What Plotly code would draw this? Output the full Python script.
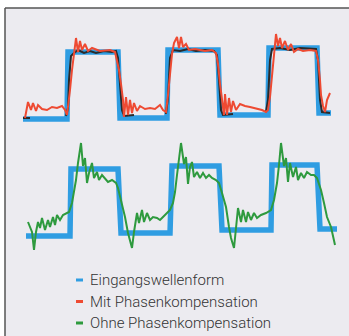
import plotly.graph_objects as go

# ---- data (time in arbitrary units, level in arbitrary units) ----
in_top_t = [23, 67, 68, 118, 120, 167, 168, 218, 220, 268, 269, 317, 319, 331]
in_top_v = [119, 119, 52, 52, 118, 118, 50, 50, 115, 115, 48, 48, 113, 113]

in_bot_t = [26, 70, 71, 118, 121, 170, 172, 219, 222, 271, 272, 317, 320, 337]
in_bot_v = [236, 236, 169, 169, 233, 233, 166, 166, 230, 230, 165, 165, 229, 229]

mit_t = [25, 28, 31, 33, 36, 38, 42, 47, 52, 57, 62, 65, 67, 68, 70, 72, 74, 76, 78, 80, 82, 85, 88, 92,
         100, 110, 115, 117, 119, 121, 123, 124, 126, 128, 130, 132, 134, 137, 140, 145, 150, 155, 160,
         163, 166, 168, 170, 172, 174, 177, 179, 181, 183, 186, 189, 195, 205, 212, 216, 218, 220, 222,
         224, 225, 227, 229, 231, 233, 236, 240, 245, 250, 255, 262, 266, 268, 270, 272, 274, 276, 278,
         280, 282, 285, 288, 291, 294, 298, 303, 310, 316, 318, 320, 321, 323, 325, 327, 330]
mit_v = [118, 102, 110, 103, 111, 105, 109, 110, 107, 108, 106, 110, 115, 108, 90, 70, 52, 38, 52, 41, 50,
         44, 51, 48, 51, 50, 52, 60, 70, 84, 100, 117, 97, 115, 100, 113, 103, 111, 106, 109, 108, 109,
         105, 110, 112, 95, 72, 54, 43, 37, 48, 37, 47, 44, 50, 49, 51, 50, 53, 64, 84, 100, 115, 94, 115,
         98, 112, 101, 110, 104, 106, 107, 108, 110, 112, 110, 97, 78, 56, 34, 46, 38, 48, 41, 50, 44, 52,
         49, 51, 50, 51, 60, 80, 95, 106, 112, 100, 93]

ref_t = [23, 30, None, 66, 68, 69, 71, 74, 78, 84, 90, 96, 104, 112, 116, 118, 120, 122, 124, 134, None,
         166, 168, 170, 173, 180, 188, 196, 205, 214, 217, 219, 221, 223, 233, None,
         266, 268, 270, 272, 280, 290, 300, 310, 316, 318, 320, 322, 330]
ref_v = [118, 118, None, 116, 108, 80, 56, 53, 50, 53, 51, 53, 51, 52, 51, 58, 80, 110, 116, 115, None,
         114, 98, 58, 50, 51, 49, 51, 50, 51, 55, 80, 110, 115, 114, None,
         112, 100, 60, 49, 48, 50, 48, 49, 49, 60, 100, 112, 113]

ohne_t = [28, 32, 34, 36, 38, 40, 42, 45, 48, 50, 53, 55, 57, 60, 63, 67, 69, 72, 74, 76, 78, 81, 83, 85,
          87, 89, 92, 94, 97, 99, 102, 105, 108, 112, 116, 118, 122, 125, 128, 132, 134, 137, 139, 142,
          144, 147, 150, 153, 157, 160, 163, 167, 170, 173, 175, 177, 179, 181, 184, 186, 188, 190, 192,
          194, 197, 200, 203, 206, 209, 212, 216, 219, 222, 226, 229, 231, 234, 236, 238, 241, 243, 246,
          248, 251, 254, 257, 261, 266, 271, 274, 277, 279, 281, 284, 286, 288, 290, 293, 296, 298, 301,
          304, 307, 311, 314, 317, 321, 324, 327, 331, 333, 335]
ohne_v = [222, 232, 250, 232, 222, 228, 218, 230, 220, 227, 217, 225, 215, 220, 215, 213, 212, 203, 193,
          180, 163, 143, 166, 158, 183, 173, 163, 178, 172, 180, 175, 178, 182, 180, 183, 188, 203, 217,
          233, 248, 232, 213, 223, 210, 222, 213, 220, 217, 218, 220, 217, 213, 210, 203, 192, 175, 158,
          143, 164, 157, 184, 167, 162, 177, 172, 178, 173, 178, 175, 178, 180, 183, 193, 207, 227, 238,
          248, 227, 208, 222, 210, 222, 212, 220, 213, 218, 215, 213, 210, 200, 183, 165, 143, 166, 158,
          182, 163, 177, 167, 180, 173, 178, 172, 175, 175, 178, 190, 203, 217, 227, 235, 245]

legend_labels = ["Eingangswellenform", "Mit Phasenkompensation", "Ohne Phasenkompensation"]
legend_rows = [280, 301.5, 323]

BLUE = "#2f9de2"
RED = "#ee4a32"
GREEN = "#2e9a3e"
BLACK = "#2a2a2a"
BG = "#ecebf0"

fig = go.Figure()
fig.add_trace(go.Scatter(x=in_top_t, y=in_top_v, mode="lines",
                         line=dict(color=BLUE, width=5.5), showlegend=False))
fig.add_trace(go.Scatter(x=in_bot_t, y=in_bot_v, mode="lines",
                         line=dict(color=BLUE, width=5.5), showlegend=False))
fig.add_trace(go.Scatter(x=ref_t, y=ref_v, mode="lines", connectgaps=False,
                         line=dict(color=BLACK, width=2), showlegend=False))
fig.add_trace(go.Scatter(x=mit_t, y=mit_v, mode="lines",
                         line=dict(color=RED, width=2), showlegend=False))
fig.add_trace(go.Scatter(x=ohne_t, y=ohne_v, mode="lines",
                         line=dict(color=GREEN, width=2), showlegend=False))

shapes = [
    dict(type="rect", xref="paper", yref="paper", x0=5/349, x1=1, y0=0, y1=(336-8)/336,
         fillcolor=BG, line=dict(width=0), layer="below"),
    dict(type="line", xref="paper", yref="paper", x0=5/349, x1=5/349, y0=0, y1=(336-8)/336,
         line=dict(color="#555555", width=1.5), layer="below"),
    dict(type="line", xref="paper", yref="paper", x0=5/349, x1=1, y0=(336-8)/336, y1=(336-8)/336,
         line=dict(color="#555555", width=1.5), layer="below"),
]
annotations = []
for lab, row, col in zip(legend_labels, legend_rows, [BLUE, RED, GREEN]):
    shapes.append(dict(type="line", xref="x", yref="y", x0=76, x1=83, y0=row, y1=row,
                       line=dict(color=col, width=3)))
    annotations.append(dict(x=88, y=row, xref="x", yref="y", text=lab, showarrow=False,
                            xanchor="left", yanchor="middle",
                            font=dict(family="Roboto", size=15, color="#333333", weight=300)))

fig.update_layout(
    width=349, height=336, margin=dict(l=0, r=0, t=0, b=0),
    paper_bgcolor="white", plot_bgcolor="rgba(0,0,0,0)",
    xaxis=dict(range=[0, 349], visible=False, fixedrange=True),
    yaxis=dict(range=[336, 0], visible=False, fixedrange=True),
    shapes=shapes, annotations=annotations, showlegend=False,
)
fig.write_html("out.html", config={"displayModeBar": False},
               post_script="document.body.style.margin='0';document.body.style.overflow='hidden';")
